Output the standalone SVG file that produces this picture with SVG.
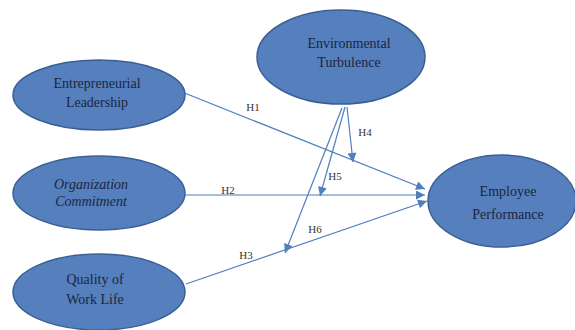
<svg xmlns="http://www.w3.org/2000/svg" width="575" height="330" viewBox="0 0 575 330">
<style>
.node ellipse{fill:#5580bd;stroke:#3a5f95;stroke-width:1.5}
.t{font-family:"Liberation Serif","Times New Roman",serif;font-size:14px;fill:#1c2540;text-anchor:middle}
.i{font-style:italic}
.lbl{font-family:"Liberation Serif","Times New Roman",serif;font-size:11px;fill:#333;text-anchor:middle}
.c line{stroke:#4f7fbd;stroke-width:1.2;marker-end:url(#ah)}
</style>
<defs>
<marker id="ah" viewBox="0 0 10 10" refX="10" refY="5" markerWidth="10" markerHeight="9" markerUnits="userSpaceOnUse" orient="auto">
<path d="M0,0 L10,5 L0,10 z" fill="#4f7fbd"/>
</marker>
</defs>
<rect width="575" height="330" fill="#fff"/>
<g class="c">
<line x1="182" y1="92" x2="425" y2="189"/>
<line x1="185" y1="195" x2="425" y2="195"/>
<line x1="186" y1="284" x2="427" y2="201"/>
<line x1="347" y1="107" x2="353" y2="162"/>
<line x1="345" y1="107" x2="320" y2="196"/>
<line x1="342" y1="108" x2="285" y2="253"/>
</g>
<g class="lbl">
<text x="253" y="111">H1</text>
<text x="228" y="194">H2</text>
<text x="246" y="259">H3</text>
<text x="365" y="136">H4</text>
<text x="335" y="180">H5</text>
<text x="315" y="233">H6</text>
</g>
<g id="n-el" class="node">
<ellipse cx="99" cy="95" rx="86" ry="35"/>
<text class="t" x="97" y="88">Entrepreneurial</text>
<text class="t" x="97" y="107">Leadership</text>
</g>
<g id="n-et" class="node">
<ellipse cx="341" cy="57" rx="84" ry="47"/>
<text class="t" x="349" y="48">Environmental</text>
<text class="t" x="349" y="67">Turbulence</text>
</g>
<g id="n-oc" class="node">
<ellipse cx="99" cy="193" rx="86" ry="37"/>
<text class="t i" x="91" y="189">Organization</text>
<text class="t i" x="91" y="206">Commitment</text>
</g>
<g id="n-qwl" class="node">
<ellipse cx="99" cy="292" rx="86" ry="38"/>
<text class="t" x="95" y="284">Quality of</text>
<text class="t" x="95" y="304">Work Life</text>
</g>
<g id="n-ep" class="node">
<ellipse cx="502" cy="201" rx="74" ry="46"/>
<text class="t" x="508" y="196">Employee</text>
<text class="t" x="508" y="219">Performance</text>
</g>
</svg>
